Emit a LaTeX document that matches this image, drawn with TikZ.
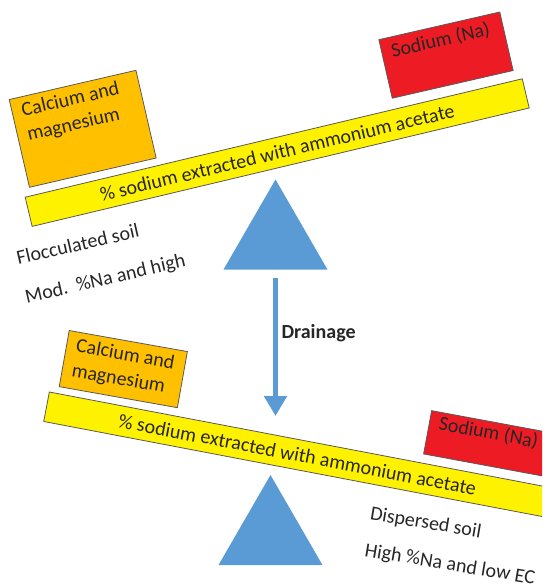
\documentclass[tikz,border=0pt]{standalone}
\usepackage{fontspec}
\setmainfont{Carlito}
\usepackage{tikz}
\usetikzlibrary{arrows.meta,shapes.geometric}
\definecolor{cmorange}{HTML}{FFC000}
\definecolor{nared}{HTML}{ED1C24}
\definecolor{beamyellow}{HTML}{FFF200}
\definecolor{fulcblue}{HTML}{5B9BD5}
\definecolor{inkgray}{HTML}{262626}

\begin{document}
\begin{tikzpicture}[x=1pt,y=-1pt,
                    every node/.style={font=\fontsize{20}{25}\selectfont,text=inkgray},
                    box/.style={draw=black!65,line width=0.8pt,inner sep=0pt},
                    boxtxt/.style={anchor=north west,align=left,inner xsep=10pt,inner ysep=6pt},
                    note/.style={anchor=base west,inner sep=0pt},
                    drain/.style={draw=fulcblue,line width=5.5pt,-{Triangle[width=22pt,length=20pt]}}]
  \tikzstyle{beam}=[box,fill=beamyellow,minimum width=511pt,minimum height=30pt]
  \tikzstyle{fulcrum}=[regular polygon,regular polygon sides=3,fill=fulcblue,
  minimum size=120pt,inner sep=0pt,outer sep=0pt]
  \useasboundingbox (0,0) rectangle (542,586);
  \clip (0,0) rectangle (542,586);

  % flocculated soil
  \node[beam,rotate=13.4] (barA) at (277.2,152.6) {\% sodium extracted with ammonium acetate};
  \node[box,fill=cmorange,rotate=13,minimum width=130pt,minimum height=90pt] (cmA) at (82.7,128.8) {};
  \node[boxtxt,rotate=13] (cmAtxt) at (cmA.north west) {Calcium and\\magnesium};
  \node[box,fill=nared,rotate=12.9,minimum width=124pt,minimum height=60pt] (naA) at (446,55.1) {};
  \node[boxtxt,rotate=12.9] (naAtxt) at (naA.north west) {Sodium (Na)};
  \node[fulcrum] (fulA) at (275.5,239.5) {};
  \node[note,rotate=13] (flocA) at (18.3,265) {Flocculated soil};
  \node[note,rotate=13] (flocB) at (26.7,303.3) {Mod.\ \ \%Na and high};

  % drainage
  \coordinate (drainTop) at (275.5,278);
  \coordinate (drainEnd) at (275.5,416);
  \draw[drain] (drainTop) -- (drainEnd)
    node[pos=0.4,anchor=west,font=\fontsize{20}{25}\selectfont\bfseries] (drainLbl) {Drainage};

  % dispersed soil
  \node[beam,rotate=-10.8] (barB) at (297.5,454.6) {\% sodium extracted with ammonium acetate};
  \node[box,fill=cmorange,rotate=-10.1,minimum width=120pt,minimum height=57pt] (cmB) at (123.3,369.1) {};
  \node[boxtxt,rotate=-10.1] (cmBtxt) at (cmB.north west) {Calcium and\\magnesium};
  \node[box,fill=nared,rotate=-10.5,minimum width=124pt,minimum height=44pt] (naB) at (488.6,443.6) {};
  \node[boxtxt,rotate=-10.5,inner ysep=3pt] (naBtxt) at (naB.north west) {Sodium (Na)};
  \node[fulcrum] (fulB) at (270.5,535) {};
  \node[note,rotate=-9.5] (dispA) at (369.3,519.3) {Dispersed soil};
  \node[note,rotate=-9.5] (dispB) at (364,556) {High \%Na and low EC};
\end{tikzpicture}
\end{document}
